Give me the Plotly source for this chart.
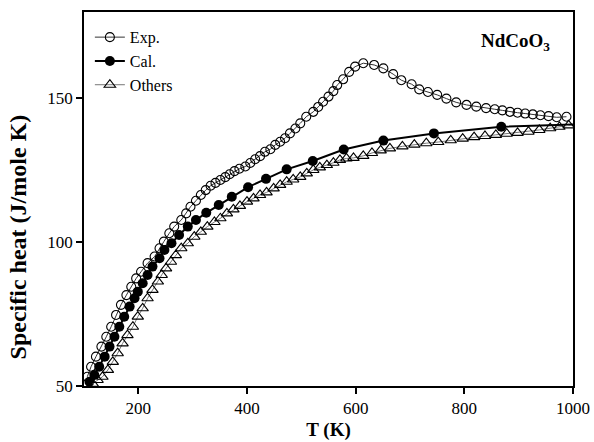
import plotly.graph_objects as go

# Exp. (open circles)
exp_T = [106, 113, 122, 132, 141, 150, 159, 168, 178, 187, 196, 205, 217, 230, 239, 247,
         257, 266, 279, 288, 296, 306, 315, 324, 333, 342, 351, 360, 368, 377, 386, 397,
         406, 415, 424, 433, 443, 452, 461, 470, 479, 489, 498, 509, 522, 531, 540, 550,
         559, 566, 577, 588, 599, 614, 634, 651, 669, 684, 703, 717, 733, 750, 767, 785,
         804, 822, 840, 856, 870, 884, 898, 912, 926, 940, 955, 970, 988]
exp_C = [53.2, 56.7, 60.2, 63.7, 67.1, 70.6, 74.7, 78.2, 81.6, 84.5, 87.4, 89.7, 92.7, 95.0,
         97.9, 100.2, 103.1, 105.4, 107.7, 110.0, 112.3, 114.4, 116.4, 118.1, 119.6, 120.6,
         121.6, 122.6, 123.6, 124.7, 125.5, 126.3, 127.5, 128.8, 129.9, 131.4, 132.3, 133.8,
         134.9, 136.1, 137.8, 139.5, 141.3, 143.6, 145.3, 147.0, 148.8, 150.6, 152.5, 154.6,
         156.6, 159.2, 161.0, 162.2, 161.6, 160.4, 158.4, 156.3, 154.9, 153.1, 152.2, 151.2,
         149.9, 148.6, 147.7, 147.1, 146.6, 146.2, 145.8, 145.3, 145.0, 144.7, 144.4, 144.1,
         143.8, 143.4, 143.6]

# Cal. (filled circles)
cal_T = [110, 119, 128, 138, 147, 156, 165, 174, 184, 193, 199, 208, 217, 226, 239, 248,
         261, 275, 291, 306, 325, 348, 372, 402, 435, 473, 521, 578, 651, 744, 868, 1020]
cal_C = [51.5, 53.8, 56.7, 60.2, 63.7, 67.1, 70.6, 74.1, 77.6, 80.5, 82.8, 85.7, 88.6, 91.5,
         94.4, 97.3, 99.6, 102.5, 105.4, 107.7, 110.2, 112.9, 115.8, 119.1, 122.0, 125.3,
         128.2, 132.2, 135.3, 137.8, 140.1, 141.0]

# Others (open triangles)
oth_T = [116, 125, 134, 144, 153, 162, 171, 180, 190, 199, 208, 217, 226, 236, 243, 251,
         260, 269, 279, 291, 303, 315, 327, 340, 351, 363, 375, 387, 400, 412, 424, 436,
         449, 461, 473, 485, 498, 510, 522, 534, 547, 559, 571, 583, 596, 614, 630, 646,
         663, 686, 708, 730, 752, 775, 797, 818, 838, 858, 878, 898, 918, 938, 958, 975, 992]
oth_C = [50.8, 52.1, 53.2, 55.6, 58.4, 61.4, 64.8, 67.7, 70.6, 74.1, 77.0, 80.5, 83.4, 86.3,
         88.6, 90.9, 93.2, 95.5, 97.9, 99.6, 101.9, 103.6, 105.4, 107.0, 108.3, 110.0, 111.4,
         112.6, 114.1, 115.2, 116.4, 117.3, 118.7, 119.9, 121.0, 121.8, 122.7, 123.9, 125.1,
         126.0, 126.8, 127.6, 128.6, 129.1, 129.3, 130.0, 131.0, 131.9, 132.6, 133.3, 133.9,
         134.4, 134.8, 135.4, 136.0, 136.5, 136.9, 137.3, 137.7, 138.0, 138.4, 139.0, 139.6,
         140.1, 140.6]

x_ticks = [200, 400, 600, 800, 1000]
y_ticks = [50, 100, 150]

FONT = "Liberation Serif"

fig = go.Figure()
fig.add_trace(go.Scatter(
    x=exp_T, y=exp_C, name="Exp.", mode="lines+markers",
    line=dict(color="#333333", width=1),
    marker=dict(symbol="circle-open", size=9, color="black", line=dict(width=1.1)),
))
fig.add_trace(go.Scatter(
    x=cal_T, y=cal_C, name="Cal.", mode="lines+markers",
    line=dict(color="black", width=2),
    marker=dict(symbol="circle", size=10, color="black"),
))
fig.add_trace(go.Scatter(
    x=oth_T, y=oth_C, name="Others", mode="lines+markers",
    line=dict(color="#777777", width=1),
    marker=dict(symbol="triangle-up-open", size=10, color="black", line=dict(width=1.1)),
))

fig.add_annotation(
    x=0.957, y=0.92, xref="paper", yref="paper", xanchor="right", yanchor="middle",
    text="<b>NdCoO<sub>3</sub></b>", showarrow=False,
    font=dict(family=FONT, size=19, color="black"),
)
fig.add_annotation(
    x=-0.135, y=0.40, xref="paper", yref="paper", xanchor="center", yanchor="middle",
    text="<b>Specific heat (J/mole K)</b>", textangle=-90, showarrow=False,
    font=dict(family=FONT, size=24, color="black"),
)

axis_common = dict(
    showgrid=False, zeroline=False, showline=True, linecolor="black", linewidth=1.5,
    mirror=True, ticks="outside", ticklen=6, tickwidth=1.5, tickcolor="black",
    tickfont=dict(family=FONT, size=17, color="black"), automargin=False,
)

fig.update_layout(
    width=594, height=442,
    margin=dict(l=84, r=21, t=12, b=56),
    paper_bgcolor="white", plot_bgcolor="white",
    font=dict(family=FONT, color="black"),
    xaxis=dict(range=[100, 1000], tickvals=x_ticks,
               title=dict(text="<b>T (K)</b>", font=dict(family=FONT, size=19), standoff=6),
               **axis_common),
    yaxis=dict(range=[50, 180], tickvals=y_ticks, **axis_common),
    legend=dict(x=0.012, y=0.978, xanchor="left", yanchor="top",
                bgcolor="rgba(0,0,0,0)", font=dict(family=FONT, size=16),
                tracegroupgap=0, itemwidth=30),
    showlegend=True,
)

fig.write_html("out.html", config={"displayModeBar": False},
               post_script="document.body.style.margin='0';document.body.style.overflow='hidden';")
